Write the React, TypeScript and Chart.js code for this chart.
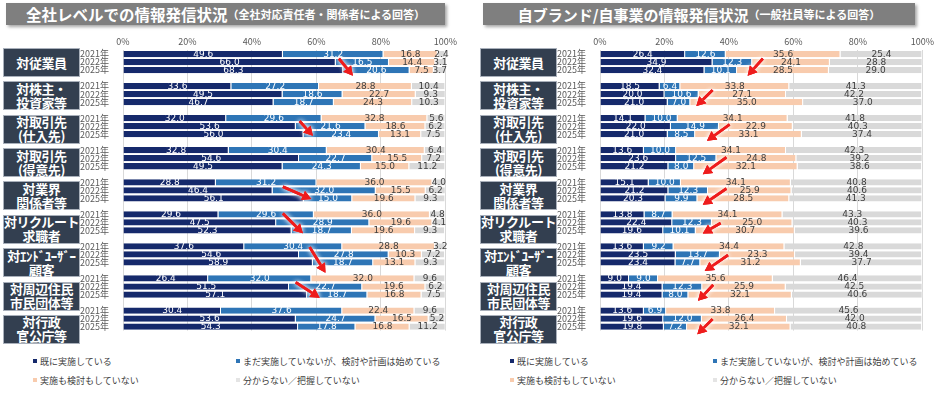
import React, { useEffect, useRef } from "react";
import { Chart, registerables } from "chart.js";
Chart.register(...registerables);

// ---------- data ----------
const years = ["2021年", "2022年", "2025年"];
const groups = [
  "対従業員",
  "対株主・\n投資家等",
  "対取引先\n(仕入先)",
  "対取引先\n(得意先)",
  "対業界\n関係者等",
  "対リクルート\n求職者",
  "対ｴﾝﾄﾞﾕｰｻﾞｰ\n顧客",
  "対周辺住民\n市民団体等",
  "対行政\n官公庁等",
];
const tickValues = [0, 20, 40, 60, 80, 100];
const seriesNames = [
  "既に実施している",
  "まだ実施していないが、検討や計画は始めている",
  "実施も検討もしていない",
  "分からない／把握していない",
];
const leftTitle = "全社レベルでの情報発信状況";
const leftSubtitle = "（全社対応責任者・関係者による回答）";
const rightTitle = "自ブランド/自事業の情報発信状況";
const rightSubtitle = "（一般社員等による回答）";

// left panel (per group: 2021, 2022, 2025)
const leftDone = [49.6, 66.0, 68.3, 33.6, 49.5, 46.7, 32.0, 53.6, 56.0, 32.8, 54.6, 49.5, 28.8, 46.4, 56.1, 29.6, 47.5, 52.3, 37.6, 54.6, 58.9, 26.4, 51.5, 57.1, 30.4, 53.6, 54.3];
const leftPlanning = [31.2, 16.5, 20.6, 27.2, 18.6, 18.7, 29.6, 21.6, 23.4, 30.4, 22.7, 24.3, 31.2, 32.0, 15.0, 29.6, 28.9, 18.7, 30.4, 27.8, 18.7, 32.0, 22.7, 18.7, 37.6, 24.7, 17.8];
const leftNot = [16.8, 14.4, 7.5, 28.8, 22.7, 24.3, 32.8, 18.6, 13.1, 30.4, 15.5, 15.0, 36.0, 15.5, 19.6, 36.0, 19.6, 19.6, 28.8, 10.3, 13.1, 32.0, 19.6, 16.8, 22.4, 16.5, 16.8];
const leftUnknown = [2.4, 3.1, 3.7, 10.4, 9.3, 10.3, 5.6, 6.2, 7.5, 6.4, 7.2, 11.2, 4.0, 6.2, 9.3, 4.8, 4.1, 9.3, 3.2, 7.2, 9.3, 9.6, 6.2, 7.5, 9.6, 5.2, 11.2];

// right panel
const rightDone = [26.4, 34.9, 32.4, 18.5, 20.0, 21.0, 14.1, 22.0, 21.0, 13.6, 23.6, 21.2, 15.1, 21.2, 20.3, 13.8, 22.4, 19.6, 13.6, 23.5, 23.4, 9.0, 19.4, 19.4, 13.6, 19.6, 19.8];
const rightPlanning = [12.6, 12.3, 10.1, 6.4, 10.6, 7.0, 10.0, 14.9, 8.5, 10.0, 12.5, 8.0, 10.0, 12.3, 9.9, 8.7, 12.3, 10.1, 9.2, 13.7, 7.7, 9.0, 12.3, 8.0, 6.9, 12.0, 7.2];
const rightNot = [35.6, 24.1, 28.5, 33.8, 27.1, 35.0, 34.1, 22.9, 33.1, 34.1, 24.8, 32.1, 34.1, 25.9, 28.5, 34.1, 25.0, 30.7, 34.4, 23.3, 31.2, 35.6, 25.9, 32.1, 33.8, 26.4, 32.1];
const rightUnknown = [25.4, 28.8, 29.0, 41.3, 42.2, 37.0, 41.8, 40.3, 37.4, 42.3, 39.2, 38.6, 40.8, 40.6, 41.3, 43.3, 40.3, 39.6, 42.8, 39.4, 37.7, 46.4, 42.5, 40.6, 45.6, 42.0, 40.8];

// arrows: [group, from %, to %, from row offset, to row offset]
const leftArrows = [
  [0, 67.0, 71.3, 0.58, 2.7],
  [2, 54.8, 58.9, 0.37, 2.2],
  [4, 49.6, 58.4, 0.56, 2.1],
  [5, 49.6, 55.8, -0.1, 2.36],
  [6, 57.9, 62.8, 0.08, 3.28],
  [7, 53.6, 61.0, 0.48, 2.39],
];
const rightArrows = [
  [0, 50.5, 45.8, 0.58, 2.7],
  [1, 34.9, 29.9, 0.5, 2.49],
  [2, 40.2, 33.2, 0.8, 2.81],
  [3, 39.2, 31.9, 0.89, 3.0],
  [4, 39.2, 31.9, 0.8, 2.8],
  [5, 37.4, 31.9, 1.08, 2.4],
  [6, 39.7, 32.5, 1.08, 3.08],
  [7, 35.1, 30.4, 0.8, 2.79],
  [8, 34.9, 30.2, 1.07, 2.95],
];

// ---------- styles ----------
const seriesColors = ["#15296b", "#2e75b6", "#f8cbad", "#d9d9d9"];
const labelColors = ["#ffffff", "#ffffff", "#404040", "#404040"];
const legendColors = ["#15296b", "#2e75b6", "#f8cbad", "#e4e4e4"];
const JP = '"Noto Sans CJK JP", "Noto Sans", sans-serif';

const ROWS_PER_GROUP = 4;
const rowLabels: string[] = [];
groups.forEach((_, g) => {
  years.forEach((y) => rowLabels.push(y));
  if (g < groups.length - 1) rowLabels.push("");
});

function expand(arr: number[]) {
  const out: (number | null)[] = [];
  groups.forEach((_, g) => {
    for (let y = 0; y < years.length; y++) out.push(arr[g * 3 + y]);
    if (g < groups.length - 1) out.push(null);
  });
  return out;
}

const valueLabelPlugin = {
  id: "valueLabels",
  afterDatasetsDraw(chart: any) {
    const ctx = chart.ctx;
    ctx.save();
    ctx.font = '9px "DejaVu Sans", sans-serif';
    ctx.textAlign = "center";
    ctx.textBaseline = "middle";
    chart.data.datasets.forEach((ds: any, di: number) => {
      const meta = chart.getDatasetMeta(di);
      meta.data.forEach((el: any, i: number) => {
        const v = ds.data[i];
        if (v == null) return;
        const p = el.getProps(["x", "y", "base"], true);
        ctx.fillStyle = labelColors[di];
        ctx.fillText(v.toFixed(1), (p.x + p.base) / 2, p.y + 0.5);
      });
    });
    ctx.restore();
  },
};

function makeArrowPlugin(list: number[][]) {
  return {
    id: "arrows",
    afterDatasetsDraw(chart: any) {
      const ctx = chart.ctx;
      const xs = chart.scales.x;
      const ys = chart.scales.y;
      const pitch = ys.getPixelForValue(1) - ys.getPixelForValue(0);
      const drawArrow = (X0: number, Y0: number, X1: number, Y1: number) => {
        const ang = Math.atan2(Y1 - Y0, X1 - X0);
        const headLen = 9;
        const headW = 5;
        const bx = X1 - headLen * Math.cos(ang);
        const by = Y1 - headLen * Math.sin(ang);
        ctx.beginPath();
        ctx.moveTo(X0, Y0);
        ctx.lineTo(bx, by);
        ctx.lineWidth = 2.6;
        ctx.strokeStyle = "#ee1c1c";
        ctx.stroke();
        ctx.beginPath();
        ctx.moveTo(X1, Y1);
        ctx.lineTo(bx + headW * Math.sin(ang), by - headW * Math.cos(ang));
        ctx.lineTo(bx - headW * Math.sin(ang), by + headW * Math.cos(ang));
        ctx.closePath();
        ctx.fillStyle = "#ee1c1c";
        ctx.fill();
      };
      ctx.save();
      list.forEach(([g, x0, x1, r0, r1]) => {
        const base = ys.getPixelForValue(g * ROWS_PER_GROUP);
        const X0 = xs.getPixelForValue(x0);
        const X1 = xs.getPixelForValue(x1);
        const Y0 = base + r0 * pitch;
        const Y1 = base + r1 * pitch;
        ctx.shadowColor = "rgba(255,255,255,1)";
        ctx.shadowBlur = 5;
        drawArrow(X0, Y0, X1, Y1);
        drawArrow(X0, Y0, X1, Y1);
        ctx.shadowBlur = 0;
        drawArrow(X0, Y0, X1, Y1);
      });
      ctx.restore();
    },
  };
}

function PanelChart({ data, arrows, left }: { data: number[][]; arrows: number[][]; left: number }) {
  const ref = useRef<HTMLCanvasElement>(null);
  useEffect(() => {
    if (!ref.current) return;
    const chart = new Chart(ref.current, {
      type: "bar",
      data: {
        labels: rowLabels,
        datasets: data.map((arr, i) => ({
          label: seriesNames[i],
          data: expand(arr),
          backgroundColor: seriesColors[i],
          borderColor: "rgba(255,255,255,0.85)",
          borderWidth: { left: 0, right: 1, top: 0, bottom: 0 },
          borderSkipped: false,
          barPercentage: 0.78,
          categoryPercentage: 1,
        })),
      },
      options: {
        indexAxis: "y",
        animation: false,
        responsive: false,
        maintainAspectRatio: false,
        layout: { padding: { top: 0, right: 14, bottom: 0, left: 0 } },
        plugins: {
          legend: { display: false },
          tooltip: { enabled: false },
          title: { display: false },
        },
        scales: {
          x: {
            stacked: true,
            position: "top",
            min: 0,
            max: 100,
            afterBuildTicks: (s: any) => {
              s.ticks = tickValues.map((v) => ({ value: v }));
            },
            ticks: {
              callback: (v: any) => v + "%",
              color: "#595959",
              font: { size: 9, family: JP },
              padding: 3,
              maxRotation: 0,
            },
            grid: { color: "#d9d9d9", drawTicks: false, lineWidth: 1 },
            border: { display: false },
            afterFit: (s: any) => {
              s.height = 20;
            },
          },
          y: {
            stacked: true,
            ticks: {
              autoSkip: false,
              color: "#595959",
              font: { size: 9, family: JP },
              padding: 6,
            },
            grid: { display: false },
            border: { display: false },
            afterFit: (s: any) => {
              s.width = 43;
            },
          },
        },
      } as any,
      plugins: [valueLabelPlugin, makeArrowPlugin(arrows)],
    });
    return () => chart.destroy();
  }, []);
  return (
    <canvas
      ref={ref}
      width={380}
      height={312}
      style={{ position: "absolute", left, top: 30, width: 380, height: 312 }}
    />
  );
}

function Panel({
  offset,
  title,
  subtitle,
  titleLeft,
  titleWidth,
  titleSize,
  subSize,
  data,
  arrows,
}: {
  offset: number;
  title: string;
  subtitle: string;
  titleLeft: number;
  titleWidth: number;
  titleSize: number;
  subSize: number;
  data: number[][];
  arrows: number[][];
}) {
  const groupPitch = (292 / 35) * ROWS_PER_GROUP;
  return (
    <>
      <div
        style={{
          position: "absolute",
          left: titleLeft,
          top: 3,
          width: titleWidth,
          height: 22,
          background: "#7f7f7f",
          boxShadow: "2px 2px 3px rgba(0,0,0,0.35)",
          color: "#fff",
          fontWeight: 700,
          display: "flex",
          alignItems: "center",
          justifyContent: "center",
          whiteSpace: "nowrap",
          fontFamily: JP,
        }}
      >
        <span style={{ fontSize: titleSize }}>{title}</span>
        <span style={{ fontSize: subSize }}>{subtitle}</span>
      </div>
      {groups.map((g, i) => (
        <div
          key={i}
          style={{
            position: "absolute",
            left: offset + 3,
            top: 48 + i * groupPitch,
            width: 77,
            height: 29,
            boxSizing: "border-box",
            background: "#333f50",
            border: "1px solid #a9b0bb",
            color: "#fff",
            fontWeight: 700,
            fontSize: 13,
            lineHeight: "14px",
            letterSpacing: "-0.4px",
            display: "flex",
            alignItems: "center",
            justifyContent: "center",
            textAlign: "center",
            whiteSpace: "pre",
            fontFamily: JP,
          }}
        >
          {g}
        </div>
      ))}
      <PanelChart data={data} arrows={arrows} left={offset + 80} />
      {seriesNames.map((name, i) => (
        <div
          key={name}
          style={{
            position: "absolute",
            left: offset + (i % 2 === 0 ? 33 : 236),
            top: i < 2 ? 355 : 374,
            height: 12,
            display: "flex",
            alignItems: "center",
            fontSize: 9,
            color: "#404040",
            whiteSpace: "nowrap",
            fontFamily: JP,
          }}
        >
          <span
            style={{
              display: "inline-block",
              width: 4,
              height: 4,
              background: legendColors[i],
              marginRight: 3,
            }}
          />
          {name}
        </div>
      ))}
    </>
  );
}

export default function App() {
  return (
    <div
      style={{
        position: "absolute",
        left: 0,
        top: 0,
        width: 940,
        height: 393,
        background: "#ffffff",
        overflow: "hidden",
        fontFamily: JP,
      }}
    >
      <Panel
        offset={0}
        title={leftTitle}
        subtitle={leftSubtitle}
        titleLeft={6}
        titleWidth={439}
        titleSize={15.5}
        subSize={11}
        data={[leftDone, leftPlanning, leftNot, leftUnknown]}
        arrows={leftArrows}
      />
      <Panel
        offset={477}
        title={rightTitle}
        subtitle={rightSubtitle}
        titleLeft={483}
        titleWidth={432}
        titleSize={15}
        subSize={11}
        data={[rightDone, rightPlanning, rightNot, rightUnknown]}
        arrows={rightArrows}
      />
    </div>
  );
}
